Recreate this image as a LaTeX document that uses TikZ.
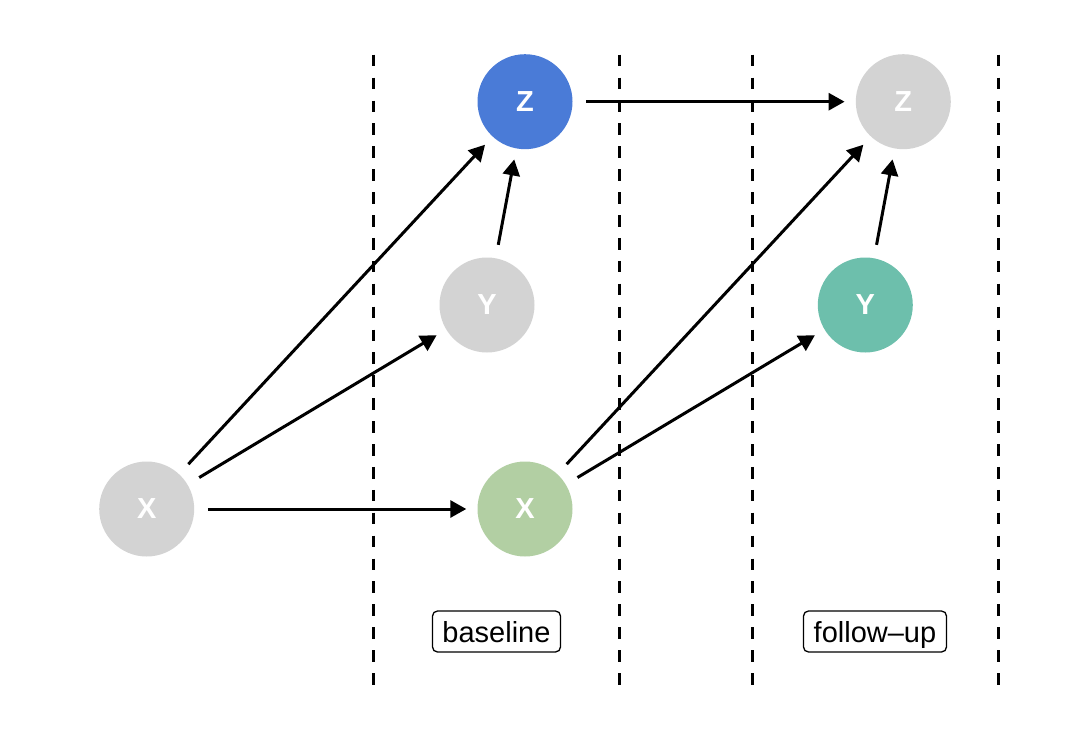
\documentclass[tikz,border=0pt]{standalone}
\usepackage{fontspec}
\setmainfont{Liberation Sans}
\usetikzlibrary{arrows.meta}
\definecolor{cgray}{HTML}{D3D3D3}
\definecolor{cblue}{HTML}{4A7BD7}
\definecolor{cgreen}{HTML}{B2CFA3}
\definecolor{cteal}{HTML}{6DBFAC}
\tikzset{
  var/.style={circle, inner sep=0pt, minimum size=95pt, text=white, font=\fontsize{29pt}{30pt}\selectfont\bfseries},
  edge/.style={line width=3pt, -{Triangle[length=16pt,width=17pt]}, shorten <=13.5pt, shorten >=11pt},
  sep/.style={line width=2.7pt, dash pattern=on 11.6pt off 11.3pt},
  lab/.style={draw, rounded corners=5pt, line width=1.3pt, inner sep=0pt, minimum height=41pt, text height=22pt, text depth=0pt, font=\fontsize{29pt}{30pt}\selectfont}
}
\begin{document}
\begin{tikzpicture}[x=1pt,y=-1pt]
\useasboundingbox (0,0) rectangle (1082,736);
% separators
\coordinate (s1a) at (373.3,54.7); \coordinate (s1b) at (373.3,684.5);
\coordinate (s2a) at (619.3,54.7); \coordinate (s2b) at (619.3,684.5);
\coordinate (s3a) at (752.3,54.7); \coordinate (s3b) at (752.3,684.5);
\coordinate (s4a) at (998.3,54.7); \coordinate (s4b) at (998.3,684.5);
\draw[sep] (s1a) -- (s1b);
\draw[sep] (s2a) -- (s2b);
\draw[sep] (s3a) -- (s3b);
\draw[sep] (s4a) -- (s4b);
% nodes
\node[var, fill=cgray] (x0) at (146.7,509) {X};
\node[var, fill=cgreen] (x1) at (525,509) {X};
\node[var, fill=cgray] (y1) at (487,305) {Y};
\node[var, fill=cblue] (z1) at (525,101.7) {Z};
\node[var, fill=cteal] (y2) at (865.3,305) {Y};
\node[var, fill=cgray] (z2) at (903.3,101.7) {Z};
% edges
\draw[edge] (x0) -- (x1);
\draw[edge] (x0) -- (z1);
\draw[edge] (x0) -- (y1);
\draw[edge] (y1) -- (z1);
\draw[edge] (z1) -- (z2);
\draw[edge] (x1) -- (z2);
\draw[edge] (x1) -- (y2);
\draw[edge] (y2) -- (z2);
% labels
\node[lab, minimum width=128pt] (lb) at (496.5,631.5) {baseline};
\node[lab, minimum width=143pt] (lf) at (875,631.5) {follow–up};
\end{tikzpicture}
\end{document}
